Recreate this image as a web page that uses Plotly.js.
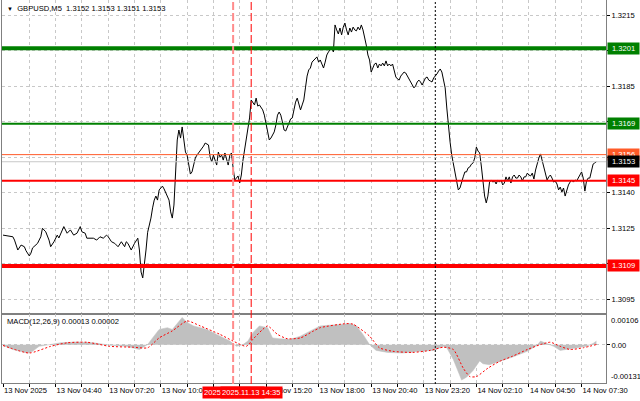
<!DOCTYPE html>
<html><head><meta charset="utf-8">
<script src="https://cdn.plot.ly/plotly-3.0.1.min.js"></script>
<style>html,body{margin:0;padding:0;background:#fff;}#chart{width:640px;height:401px;}</style>
</head><body><div id="chart"></div>
<script>
// ---------- data (bar index = 5-minute bar counted from the left edge) ----------
const priceBars = [0,4,6,7,9,11,13,14,16,17,18,21,23,24,26,28,29,31,33,34,36,37,39,41,43,45,47,48,50,51,55,57,59,61,63,64,66,68,70,72,74,75,76,78,80,
82,83,84,85,86,87,88,89,90,91,92,93,94,95,96,97,98,99,100,101,102,103,104,105,106,107,108,109,110,111,112,113,114,115,116,117,118,119,120,121,122,123,124,125,126,127,128,129,130,131,132,133,134,135,136,137,138,139,140,141,142,143,144,145,146,147,148,149,150,
151,152,153,154,155,156,157,158,159,160,161,162,163,164,165,166,167,168,169,170,171,172,173,174,175,176,177,178,179,180,181,182,183,184,185,186,187,188,189,190,191,192,193,194,195,196,197,198,199,200,
201,202,203,204,205,206,207,208,209,210,211,212,213,214,215,216,217,218,219,220,221,222,223,224,225,226,227,228,229,230,231,232,233,234,235,236,237,238,239,240,241,242,243,244,245,246,247,248,249,250,
251,252,253,254,255,256,257,258,259,260,261,262,263,264,265,266,267,268,269,270,271,272,273,274,275,276,277,278,279,280,281,282,283,284,285,286,287,288,289,290,291,292,293,294,295,296,297,298,299,300,
301,302,303,304,305,306,307,308,309,310,311,312,313,314,315,316,317,318,319,320,321,322,323,324,325,326,327,328,329,330,331,332,333,334,335,336,337,338,339,340,341,342,343,344,345,346,347,348,349,350,
351,352,353,354,355,356,357,358,359,360,361];
const priceVals = [1.31220,1.31217,1.31213,1.31199,1.31157,1.31178,1.31171,1.31154,1.31132,1.31144,1.31166,1.31185,1.31213,1.31249,1.31234,1.31199,1.31171,1.31192,1.31220,1.31208,1.31242,1.31256,1.31228,1.31242,1.31220,1.31228,1.31256,1.31234,1.31228,1.31207,1.31207,1.31199,1.31213,1.31207,1.31220,1.31213,1.31192,1.31185,1.31171,1.31192,1.31171,1.31192,1.31185,1.31157,1.31185,
1.31207,1.31157,1.31064,1.31039,1.31115,1.31157,1.31232,1.31258,1.31292,1.31335,1.31368,1.31385,1.31368,1.31411,1.31419,1.31427,1.31415,1.31398,1.31381,1.31368,1.31318,1.31292,1.31347,1.31461,1.31622,1.31664,1.31630,1.31677,1.31622,1.31571,1.31558,1.31516,1.31478,1.31487,1.31516,1.31546,1.31558,1.31567,1.31575,1.31588,1.31596,1.31609,1.31605,1.31601,1.31550,1.31529,1.31558,1.31537,1.31516,1.31571,1.31550,1.31558,1.31537,1.31567,1.31537,1.31516,1.31558,1.31567,1.31504,1.31453,1.31461,1.31470,1.31440,1.31474,1.31537,1.31580,1.31609,1.31656,1.31715,
1.31791,1.31778,1.31770,1.31799,1.31765,1.31770,1.31757,1.31749,1.31727,1.31694,1.31656,1.31622,1.31630,1.31643,1.31656,1.31685,1.31727,1.31740,1.31727,1.31698,1.31664,1.31660,1.31681,1.31694,1.31711,1.31715,1.31749,1.31782,1.31799,1.31770,1.31749,1.31770,1.31791,1.31842,1.31892,1.31918,1.31926,1.31951,1.31960,1.31968,1.31973,1.31951,1.31960,1.31943,1.31926,1.31951,1.31981,1.31994,1.32002,1.32011,
1.31994,1.32108,1.32087,1.32070,1.32095,1.32066,1.32099,1.32116,1.32087,1.32066,1.32095,1.32078,1.32099,1.32087,1.32083,1.32099,1.32087,1.32108,1.32087,1.32061,1.32023,1.31981,1.31960,1.31909,1.31926,1.31943,1.31947,1.31926,1.31943,1.31935,1.31947,1.31935,1.31956,1.31935,1.31943,1.31935,1.31943,1.31909,1.31888,1.31880,1.31875,1.31892,1.31901,1.31909,1.31905,1.31892,1.31875,1.31867,1.31854,1.31842,
1.31850,1.31867,1.31875,1.31867,1.31854,1.31867,1.31884,1.31888,1.31875,1.31871,1.31867,1.31884,1.31892,1.31901,1.31913,1.31922,1.31909,1.31875,1.31842,1.31757,1.31677,1.31613,1.31558,1.31520,1.31487,1.31444,1.31411,1.31419,1.31449,1.31466,1.31487,1.31487,1.31504,1.31508,1.31520,1.31525,1.31546,1.31592,1.31575,1.31567,1.31512,1.31453,1.31385,1.31356,1.31385,1.31444,1.31453,1.31444,1.31449,1.31436,
1.31453,1.31444,1.31453,1.31432,1.31440,1.31466,1.31449,1.31466,1.31440,1.31466,1.31474,1.31461,1.31461,1.31474,1.31466,1.31449,1.31466,1.31466,1.31482,1.31474,1.31470,1.31482,1.31457,1.31495,1.31525,1.31546,1.31563,1.31537,1.31512,1.31478,1.31453,1.31466,1.31474,1.31461,1.31444,1.31449,1.31436,1.31411,1.31423,1.31402,1.31419,1.31385,1.31411,1.31432,1.31444,1.31453,1.31444,1.31453,1.31449,1.31461,
1.31474,1.31487,1.31461,1.31406,1.31449,1.31461,1.31461,1.31487,1.31520,1.31525,1.31530];

const macdBars = [0,6,15,18,22,27,35,45,55,65,75,83,88,91,95,100,103,109,112,116,124,130,138,142,146,149,152,156,161,164,168,175,181,187,193,207,211,215,219,223,227,234,243,254,262,268,270,274,277,279,282,286,290,292,296,302,310,319,325,327,331,335,339,343,349,355,359,361];
const macdVals = [-0.00002,-0.00016,-0.00028,-0.00022,-0.00005,-0.00001,0.00007,0.00010,0.00007,-0.00001,-0.00005,-0.00016,0.00001,0.00024,0.00053,0.00059,0.00053,0.00094,0.00077,0.00065,0.00053,0.00036,0.00013,-0.00005,0.00001,0.00013,0.00042,0.00065,0.00059,0.00024,0.00021,0.00019,0.00030,0.00048,0.00065,0.00071,0.00073,0.00065,0.00036,0.00001,-0.00019,-0.00026,-0.00028,-0.00022,-0.00019,-0.00005,-0.00010,-0.00051,-0.00097,-0.00121,-0.00111,-0.00088,-0.00055,-0.00065,-0.00068,-0.00057,-0.00042,-0.00022,-0.00001,0.00013,0.00005,-0.00005,-0.00019,-0.00016,-0.00010,-0.00005,0.00005,0.00013];

const signalBars = [0,16,29,39,51,65,79,88,95,103,112,120,132,140,148,152,158,161,167,173,181,189,193,209,213,223,229,237,249,260,268,274,280,284,288,295,302,310,319,327,333,339,345,353,361];
const signalVals = [-0.00002,-0.00028,-0.00005,0.00007,0.00009,-0.00005,-0.00008,-0.00010,0.00024,0.00048,0.00082,0.00065,0.00036,0.00013,-0.00005,0.00019,0.00053,0.00065,0.00036,0.00021,0.00024,0.00048,0.00059,0.00073,0.00071,0.00030,-0.00010,-0.00022,-0.00026,-0.00019,-0.00008,-0.00016,-0.00080,-0.00109,-0.00109,-0.00080,-0.00057,-0.00039,-0.00016,0.00001,0.00009,-0.00005,-0.00016,-0.00010,0.00001];

const levelVals = [1.3201, 1.3169, 1.3156, 1.3153, 1.3145, 1.3109];
const levelText = ['1.3201','1.3169','1.3156','1.3153','1.3145','1.3109'];

const timeTickBars = [0,16,32,48,64,80,96,112,128,144,160,176,192,208,224,240,256,272,288,304,320,336,352];
const timeTickText = ['13 Nov 2025','','13 Nov 04:40','','13 Nov 07:20','','13 Nov 10:00','','13 Nov 12:40','','13 Nov 15:20','','13 Nov 18:00','','13 Nov 20:40','','13 Nov 23:20','','14 Nov 02:10','','14 Nov 04:50','','14 Nov 07:30'];

const priceTickVals = [1.3095,1.3110,1.3125,1.3140,1.3155,1.3170,1.3185,1.3200,1.3215];
const priceTickText = ['1.3095','','1.3125','1.3140','','','1.3185','','1.3215'];

const vlineBars = [140, 151, 263];
const vlineText = ['2025.11.13 13:40', '2025.11.13 14:35', ''];

const titleText = 'GBPUSD,M5  1.3152 1.3153 1.3151 1.3153';
const macdTitle = 'MACD(12,26,9) 0.00013 0.00002';
const macdEdgeText = ['0.00106', '-0.00131'];

// ---------- styles ----------
const FONT = 'Liberation Sans, Arial, sans-serif';
const FS = 7.6;
const levelLineColor = ['#008000','#008000','#FF5A28','#C8C8C8','#FF0000','#FF0000'];
const levelLineWidth = [4,2,1,1,2,4];
const levelBoxColor = ['#008000','#008000','#FF5A28','#000000','#FF0000','#FF0000'];
const vlineColor = ['#FF8C8C','#FF0000','#000000'];
const vlineWidth = [2,1,1];
const vlineDash = ['8px,3px','8px,3px','2px,2px'];
const gridColor = '#C8C8C8';
const frameColor = '#808080';

const traces = [
  {type:'scatter', mode:'lines', x: macdBars, y: macdVals, xaxis:'x2', yaxis:'y2',
   fill:'tozeroy', fillcolor:'#C0C0C0', line:{color:'#C0C0C0', width:0.5}, hoverinfo:'skip'},
  {type:'scatter', mode:'lines', x: signalBars, y: signalVals, xaxis:'x2', yaxis:'y2',
   line:{color:'#FF0000', width:1, dash:'2px,2px', shape:'spline', smoothing:0.6}, hoverinfo:'skip'},
  {type:'scatter', mode:'lines', x: priceBars, y: priceVals, xaxis:'x', yaxis:'y',
   line:{color:'#000000', width:1}, hoverinfo:'skip'}
];

const shapes = [];
levelVals.forEach((v,i) => {
  shapes.push({type:'line', xref:'paper', x0:0, x1:1, yref:'y', y0:v, y1:v,
    line:{color:levelLineColor[i], width:levelLineWidth[i]}});
});
vlineBars.forEach((b,i) => {
  shapes.push({type:'line', xref:'x', x0:b, x1:b, yref:'paper', y0:0, y1:1,
    line:{color:vlineColor[i], width:vlineWidth[i], dash:vlineDash[i]}});
});

const annotations = [];
levelVals.forEach((v,i) => {
  annotations.push({xref:'paper', x:1, xanchor:'left', xshift:1, yref:'y', y:v, yanchor:'middle',
    text:levelText[i], showarrow:false, bgcolor:levelBoxColor[i], borderpad:1, width:29, height:9,
    align:'center', font:{family:FONT, size:FS, color:'#FFFFFF'}});
});
vlineBars.forEach((b,i) => {
  if (!vlineText[i]) return;
  annotations.push({xref:'x2', x:b, xanchor:'center', yref:'paper', y:0, yanchor:'top', yshift:-2,
    text:vlineText[i], showarrow:false, bgcolor:'#FF0000', borderpad:1, height:9,
    font:{family:FONT, size:FS, color:'#FFFFFF'}});
});
annotations.push({xref:'paper', x:0, xanchor:'left', xshift:3, yref:'paper', y:1, yanchor:'top', yshift:-2,
  text:'<span style="font-size:6px">▼</span>  ' + titleText, showarrow:false,
  font:{family:FONT, size:FS, color:'#000000'}});
annotations.push({xref:'paper', x:0, xanchor:'left', xshift:3, yref:'y2 domain', y:1, yanchor:'top', yshift:-1,
  text:macdTitle, showarrow:false, font:{family:FONT, size:FS, color:'#000000'}});
annotations.push({xref:'paper', x:1, xanchor:'left', xshift:3, yref:'y2 domain', y:1, yanchor:'top', yshift:0,
  text:macdEdgeText[0], showarrow:false, font:{family:FONT, size:FS, color:'#000000'}});
annotations.push({xref:'paper', x:1, xanchor:'left', xshift:3, yref:'y2 domain', y:0, yanchor:'bottom', yshift:0,
  text:macdEdgeText[1], showarrow:false, font:{family:FONT, size:FS, color:'#000000'}});

const tickFont = {family:FONT, size:FS, color:'#000000'};
const layout = {
  width:640, height:401,
  margin:{l:2, r:34, t:0, b:17, pad:0},
  paper_bgcolor:'#FFFFFF', plot_bgcolor:'#FFFFFF',
  showlegend:false, hovermode:false,
  xaxis:{domain:[0,1], anchor:'y', range:[-0.61, 366.85], tickvals:timeTickBars, showticklabels:false,
    showgrid:true, gridcolor:gridColor, griddash:'3px,3px', gridwidth:1, zeroline:false,
    showline:true, linecolor:frameColor, linewidth:2, ticks:''},
  xaxis2:{domain:[0,1], anchor:'y2', matches:'x', tickvals:timeTickBars, ticktext:timeTickText,
    tickangle:0, ticklabelposition:'outside right', ticks:'outside', ticklen:3, tickcolor:'#000000',
    showgrid:true, gridcolor:gridColor, griddash:'3px,3px', gridwidth:1, zeroline:false,
    showline:true, mirror:true, linecolor:frameColor, linewidth:1, tickfont:tickFont},
  yaxis:{domain:[0.1849,1], anchor:'x', range:[1.308909, 1.322134], side:'right',
    tickvals:priceTickVals, ticktext:priceTickText, ticks:'outside', ticklen:3, tickcolor:'#000000',
    showgrid:true, gridcolor:gridColor, griddash:'3px,3px', gridwidth:1, zeroline:false,
    showline:true, mirror:true, linecolor:frameColor, linewidth:1, tickfont:tickFont},
  yaxis2:{domain:[0.0026,0.1823], anchor:'x2', range:[-0.00131, 0.00106], side:'right',
    tickvals:[0], ticktext:['0.00'], ticks:'outside', ticklen:3, tickcolor:'#000000',
    showgrid:true, gridcolor:gridColor, griddash:'3px,3px', gridwidth:1, zeroline:false,
    showline:true, mirror:true, linecolor:frameColor, linewidth:1, tickfont:tickFont},
  shapes: shapes,
  annotations: annotations
};

Plotly.newPlot('chart', traces, layout, {staticPlot:true, displayModeBar:false});
</script></body></html>
